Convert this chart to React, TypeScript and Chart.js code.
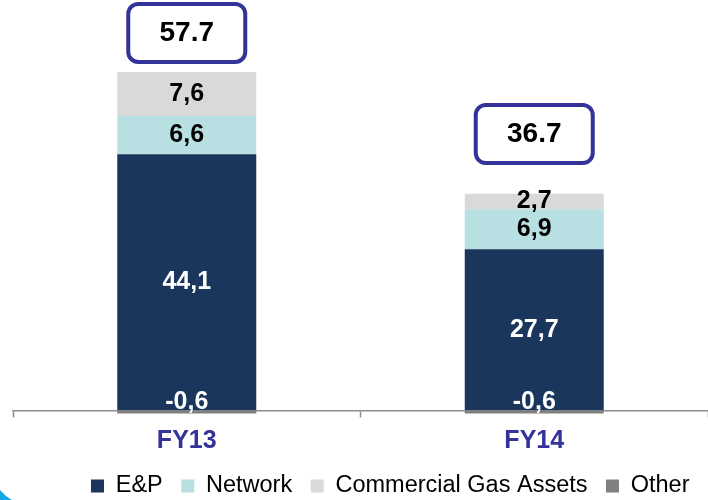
import React, { useEffect, useRef } from 'react';
import { Chart, registerables } from 'chart.js';

Chart.register(...registerables);

// ---- data ----
const categories = ['FY13', 'FY14'];
const seriesNames = ['E&P', 'Network', 'Commercial Gas Assets', 'Other'];
const epValues = [44.1, 27.7];
const networkValues = [6.6, 6.9];
const commercialValues = [7.6, 2.7];
const otherValues = [-0.6, -0.6];

const FONT = "'Liberation Sans', Arial, Helvetica, sans-serif";
const NAVY = '#1b365d';
const CYAN = '#b8dfe2';
const LIGHT_GREY = '#d9d9d9';
const MID_GREY = '#808080';
const FRAME = '#333399';

const fmtComma = (v: number) => v.toFixed(1).replace('.', ',');

const valueLabelsPlugin = {
  id: 'valueLabels',
  afterDatasetsDraw(chart: any) {
    const ctx = chart.ctx;
    ctx.save();
    ctx.font = `bold 25px ${FONT}`;
    ctx.textAlign = 'center';
    ctx.textBaseline = 'middle';
    chart.data.datasets.forEach((ds: any, di: number) => {
      const meta = chart.getDatasetMeta(di);
      meta.data.forEach((el: any, i: number) => {
        const v = ds.data[i] as number;
        const { x, y, base } = el.getProps(['x', 'y', 'base'], true);
        const ty = v < 0 ? Math.min(y, base) - 8.3 : (y + base) / 2;
        ctx.fillStyle = ds.labelColor;
        ctx.fillText(fmtComma(v), x, ty);
      });
    });
    ctx.restore();
  },
};

const totalBoxesPlugin = {
  id: 'totalBoxes',
  afterDatasetsDraw(chart: any, _args: any, opts: any) {
    const ctx = chart.ctx;
    const yScale = chart.scales.y;
    const meta0 = chart.getDatasetMeta(0);
    const gaps: number[] = opts.gaps || [];
    const w = opts.width;
    const h = opts.height;
    const lw = opts.lineWidth;
    ctx.save();
    categories.forEach((_c, i) => {
      let pos = 0;
      let net = 0;
      chart.data.datasets.forEach((ds: any) => {
        const v = ds.data[i] as number;
        net += v;
        if (v > 0) pos += v;
      });
      const topPx = yScale.getPixelForValue(pos);
      const cx = meta0.data[i].x;
      const bottom = topPx - (gaps[i] || 0);
      const top = bottom - h;
      ctx.beginPath();
      ctx.roundRect(cx - w / 2 + lw / 2, top + lw / 2, w - lw, h - lw, opts.radius);
      ctx.fillStyle = '#ffffff';
      ctx.fill();
      ctx.lineWidth = lw;
      ctx.strokeStyle = FRAME;
      ctx.stroke();
      ctx.font = `bold 28px ${FONT}`;
      ctx.textAlign = 'center';
      ctx.textBaseline = 'middle';
      ctx.fillStyle = '#000000';
      ctx.fillText(net.toFixed(1), cx, top + h / 2);
    });
    ctx.restore();
  },
};

const cornerPlugin = {
  id: 'cornerDecor',
  afterDraw(chart: any) {
    const ctx = chart.ctx;
    ctx.save();
    ctx.beginPath();
    ctx.moveTo(0, 490);
    ctx.quadraticCurveTo(5, 496, 12, 500);
    ctx.lineTo(0, 500);
    ctx.closePath();
    ctx.fillStyle = '#12a9e6';
    ctx.fill();
    ctx.restore();
  },
};

export default function App() {
  const canvasRef = useRef<HTMLCanvasElement | null>(null);

  useEffect(() => {
    document.body.style.margin = '0';
    const canvas = canvasRef.current;
    if (!canvas) return;
    const chart = new Chart(canvas, {
      type: 'bar',
      data: {
        labels: categories,
        datasets: [
          { label: seriesNames[0], data: epValues, backgroundColor: NAVY, labelColor: '#ffffff' } as any,
          { label: seriesNames[1], data: networkValues, backgroundColor: CYAN, labelColor: '#000000' } as any,
          { label: seriesNames[2], data: commercialValues, backgroundColor: LIGHT_GREY, labelColor: '#000000' } as any,
          { label: seriesNames[3], data: otherValues, backgroundColor: MID_GREY, labelColor: '#ffffff', clip: false } as any,
        ],
      },
      options: {
        responsive: false,
        animation: false,
        devicePixelRatio: 1,
        datasets: {
          bar: { categoryPercentage: 1, barPercentage: 0.4, borderWidth: 0 },
        },
        layout: { padding: { left: 13, right: 0, top: 0, bottom: -7.75 } },
        font: { family: FONT },
        scales: {
          x: {
            stacked: true,
            offset: true,
            grid: {
              display: true,
              offset: true,
              drawOnChartArea: false,
              drawTicks: true,
              tickLength: 16,
              tickBorderDash: [6, 100],
              tickColor: '#8c8c8c',
              tickWidth: 1.5,
            },
            border: { display: true, color: '#8c8c8c', width: 1.5 },
            ticks: {
              padding: 1.8,
              color: FRAME,
              font: { family: FONT, size: 25, weight: 'bold', lineHeight: 1 },
            },
          },
          y: {
            stacked: true,
            display: false,
            min: -0.2,
            max: 70.7,
          },
        },
        plugins: {
          legend: {
            display: true,
            position: 'bottom',
            align: 'end',
            labels: {
              boxWidth: 13,
              boxHeight: 13,
              padding: 18.5,
              color: '#000000',
              font: { family: FONT, size: 23.5 },
            },
          },
          tooltip: { enabled: false },
          totalBoxes: { gaps: [8, 28.7], width: 121, height: 62, lineWidth: 4, radius: 10 },
        } as any,
      },
      plugins: [valueLabelsPlugin, totalBoxesPlugin, cornerPlugin],
    } as any);
    return () => chart.destroy();
  }, []);

  return (
    <div style={{ width: 708, height: 500 }}>
      <canvas ref={canvasRef} width={708} height={500} style={{ display: 'block' }} />
    </div>
  );
}
